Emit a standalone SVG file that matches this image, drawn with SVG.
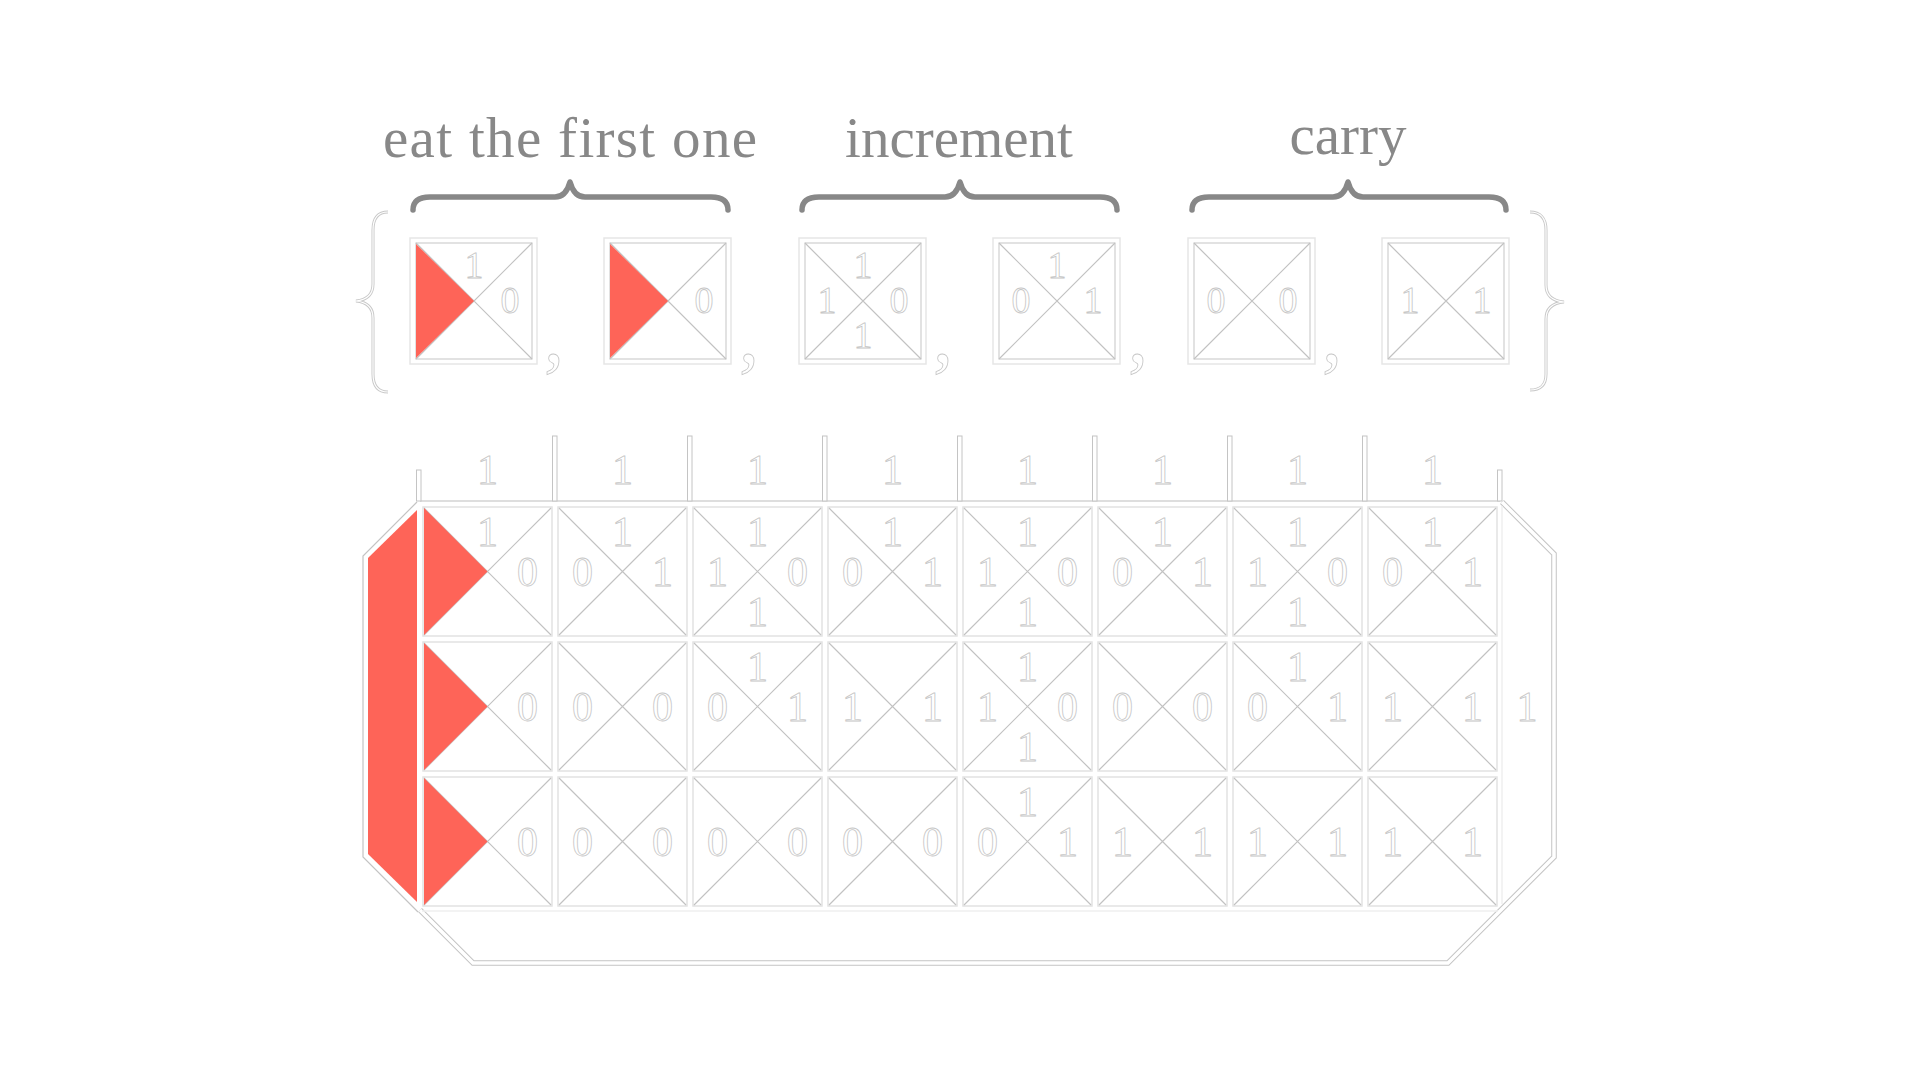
<svg xmlns="http://www.w3.org/2000/svg" xmlns:xlink="http://www.w3.org/1999/xlink" width="1920" height="1080" viewBox="0 0 1920 1080">
<style>
.lbl{font-family:"Liberation Serif","DejaVu Serif",serif;font-size:57px;fill:#888;text-anchor:middle}
.ob{fill:none;stroke:#888;stroke-width:5.5;stroke-linecap:round;stroke-linejoin:round}
.d{font-family:"Liberation Serif","DejaVu Serif",serif;font-size:42px;fill:#fff;stroke:#c6c6c6;stroke-width:0.8;text-anchor:middle}
.ds{font-family:"Liberation Serif","DejaVu Serif",serif;font-size:38px;fill:#fff;stroke:#c6c6c6;stroke-width:0.8;text-anchor:middle}
.cm{font-family:"Liberation Serif","DejaVu Serif",serif;font-size:80px;fill:#fff;stroke:#c6c6c6;stroke-width:0.8}
.cellbox{fill:#fff;stroke:#e2e2e2;stroke-width:1.5}
.diag{stroke:#c2c2c2;stroke-width:1.2;fill:none}
.outer{fill:none;stroke:#e6e6e6;stroke-width:1.5}
.inner{fill:none;stroke:#cfcfcf;stroke-width:1.2}
.red{fill:#fe6458}
.dA{fill:none;stroke:#c4c4c4;stroke-width:5.5;stroke-linejoin:miter}
.dB{fill:none;stroke:#fff;stroke-width:3.5;stroke-linejoin:miter}
.bA{fill:none;stroke:#c8c8c8;stroke-width:3}
.bB{fill:none;stroke:#fff;stroke-width:1.2}
.sep{fill:#fff;stroke:#c4c4c4;stroke-width:1}
.thin{fill:none;stroke:#c4c4c4;stroke-width:1.2}
.faint{fill:none;stroke:#efefef;stroke-width:1.5}
.hl{fill:none;stroke:#dedede;stroke-width:1.8}
</style>
<defs>
<g id="cell">
<rect class="cellbox" x="0" y="0" width="129" height="129"/>
<path class="diag" d="M1,1 L128,128 M128,1 L1,128"/>
</g>
<g id="rcell">
<rect class="cellbox" x="0" y="0" width="129" height="129"/>
<path class="diag" d="M1,1 L128,128 M128,1 L1,128"/>
<polygon class="red" points="1,1 64.5,64.5 1,128"/>
</g>
<g id="box">
<rect class="outer" x="0" y="0" width="127" height="126"/>
<rect class="inner" x="6" y="5" width="116" height="116"/>
<path class="diag" d="M6,5 L122,121 M122,5 L6,121"/>
</g>
<g id="rbox">
<rect class="outer" x="0" y="0" width="127" height="126"/>
<rect class="inner" x="6" y="5" width="116" height="116"/>
<path class="diag" d="M6,5 L122,121 M122,5 L6,121"/>
<polygon class="red" points="6,6 64,63 6,120"/>
</g>
<path id="lbrace" d="M388,212 C378,212 373,218 373,230 L373,284 C373,295 366,300 356,301 C366,302 373,307 373,318 L373,374 C373,386 378,392 388,392"/>
<path id="rbrace" d="M1530,212 C1540,212 1546,218 1546,230 L1546,285 C1546,296 1553,301 1564,302 C1553,303 1546,308 1546,319 L1546,374 C1546,386 1540,390 1530,390"/>
<path id="hexR" d="M1502,502 L1554,554 L1554,857 L1448,963 L473,963 L420,910"/>
</defs>

<g id="labels">
<text class="lbl" x="570" y="157" textLength="374" lengthAdjust="spacing">eat the first one</text>
<text class="lbl" x="959" y="157">increment</text>
<text class="lbl" x="1348" y="154">carry</text>
</g>

<g id="overbraces">
<path class="ob" d="M413,210 Q413,197 430,197 L555,197 Q566,197 570,182 Q574,197 585,197 L711,197 Q728,197 728,210"/>
<path class="ob" d="M802,210 Q802,197 819,197 L945,197 Q956,197 960,182 Q964,197 975,197 L1100,197 Q1117,197 1117,210"/>
<path class="ob" d="M1192,210 Q1192,197 1209,197 L1333,197 Q1344,197 1348,182 Q1352,197 1363,197 L1489,197 Q1506,197 1506,210"/>
</g>

<g id="set-braces">
<use xlink:href="#lbrace" class="bA"/>
<use xlink:href="#lbrace" class="bB"/>
<use xlink:href="#rbrace" class="bA"/>
<use xlink:href="#rbrace" class="bB"/>
</g>

<g id="box1">
<use xlink:href="#rbox" x="410" y="238"/>
<text class="ds" x="474" y="278">1</text>
<text class="ds" x="510" y="313">0</text>
<text class="cm" x="544" y="362">,</text>
</g>
<g id="box2">
<use xlink:href="#rbox" x="604" y="238"/>
<text class="ds" x="704" y="313">0</text>
<text class="cm" x="739" y="362">,</text>
</g>
<g id="box3">
<use xlink:href="#box" x="799" y="238"/>
<text class="ds" x="863" y="278">1</text>
<text class="ds" x="827" y="313">1</text>
<text class="ds" x="899" y="313">0</text>
<text class="ds" x="863" y="348">1</text>
<text class="cm" x="933" y="362">,</text>
</g>
<g id="box4">
<use xlink:href="#box" x="993" y="238"/>
<text class="ds" x="1057" y="278">1</text>
<text class="ds" x="1021" y="313">0</text>
<text class="ds" x="1093" y="313">1</text>
<text class="cm" x="1128" y="362">,</text>
</g>
<g id="box5">
<use xlink:href="#box" x="1188" y="238"/>
<text class="ds" x="1216" y="313">0</text>
<text class="ds" x="1288" y="313">0</text>
<text class="cm" x="1322" y="362">,</text>
</g>
<g id="box6">
<use xlink:href="#box" x="1382" y="238"/>
<text class="ds" x="1410" y="313">1</text>
<text class="ds" x="1482" y="313">1</text>
</g>

<g id="frame">
<polygon class="red" points="368,558 417,510 417,902 368,854"/>
<path class="thin" d="M417,502 L363,556 L363,857 L418,912"/>
<use xlink:href="#hexR" class="dA"/>
<use xlink:href="#hexR" class="dB"/>
<line class="hl" x1="420" y1="501" x2="1500" y2="501"/>
<line class="faint" x1="422" y1="911" x2="1498" y2="911"/>
<line class="faint" x1="1502" y1="506" x2="1502" y2="904"/>
<rect class="sep" x="416.5" y="470" width="4.5" height="31"/>
<rect class="sep" x="552.5" y="436" width="4.5" height="65"/>
<rect class="sep" x="687.5" y="436" width="4.5" height="65"/>
<rect class="sep" x="822.5" y="436" width="4.5" height="65"/>
<rect class="sep" x="957.5" y="436" width="4.5" height="65"/>
<rect class="sep" x="1092.5" y="436" width="4.5" height="65"/>
<rect class="sep" x="1227.5" y="436" width="4.5" height="65"/>
<rect class="sep" x="1362.5" y="436" width="4.5" height="65"/>
<rect class="sep" x="1497.5" y="470" width="4.5" height="31"/>
</g>

<g id="header">
<text class="d" x="487.5" y="484">1</text>
<text class="d" x="622.5" y="484">1</text>
<text class="d" x="757.5" y="484">1</text>
<text class="d" x="892.5" y="484">1</text>
<text class="d" x="1027.5" y="484">1</text>
<text class="d" x="1162.5" y="484">1</text>
<text class="d" x="1297.5" y="484">1</text>
<text class="d" x="1432.5" y="484">1</text>
</g>

<g id="row0">
<use xlink:href="#rcell" x="423" y="507"/>
<use xlink:href="#cell" x="558" y="507"/>
<use xlink:href="#cell" x="693" y="507"/>
<use xlink:href="#cell" x="828" y="507"/>
<use xlink:href="#cell" x="963" y="507"/>
<use xlink:href="#cell" x="1098" y="507"/>
<use xlink:href="#cell" x="1233" y="507"/>
<use xlink:href="#cell" x="1368" y="507"/>
<text class="d" x="487.5" y="545.5">1</text><text class="d" x="527.5" y="585.5">0</text>
<text class="d" x="622.5" y="545.5">1</text><text class="d" x="582.5" y="585.5">0</text><text class="d" x="662.5" y="585.5">1</text>
<text class="d" x="757.5" y="545.5">1</text><text class="d" x="717.5" y="585.5">1</text><text class="d" x="797.5" y="585.5">0</text><text class="d" x="757.5" y="625.5">1</text>
<text class="d" x="892.5" y="545.5">1</text><text class="d" x="852.5" y="585.5">0</text><text class="d" x="932.5" y="585.5">1</text>
<text class="d" x="1027.5" y="545.5">1</text><text class="d" x="987.5" y="585.5">1</text><text class="d" x="1067.5" y="585.5">0</text><text class="d" x="1027.5" y="625.5">1</text>
<text class="d" x="1162.5" y="545.5">1</text><text class="d" x="1122.5" y="585.5">0</text><text class="d" x="1202.5" y="585.5">1</text>
<text class="d" x="1297.5" y="545.5">1</text><text class="d" x="1257.5" y="585.5">1</text><text class="d" x="1337.5" y="585.5">0</text><text class="d" x="1297.5" y="625.5">1</text>
<text class="d" x="1432.5" y="545.5">1</text><text class="d" x="1392.5" y="585.5">0</text><text class="d" x="1472.5" y="585.5">1</text>
</g>

<g id="row1">
<use xlink:href="#rcell" x="423" y="642"/>
<use xlink:href="#cell" x="558" y="642"/>
<use xlink:href="#cell" x="693" y="642"/>
<use xlink:href="#cell" x="828" y="642"/>
<use xlink:href="#cell" x="963" y="642"/>
<use xlink:href="#cell" x="1098" y="642"/>
<use xlink:href="#cell" x="1233" y="642"/>
<use xlink:href="#cell" x="1368" y="642"/>
<text class="d" x="527.5" y="720.5">0</text>
<text class="d" x="582.5" y="720.5">0</text><text class="d" x="662.5" y="720.5">0</text>
<text class="d" x="757.5" y="680.5">1</text><text class="d" x="717.5" y="720.5">0</text><text class="d" x="797.5" y="720.5">1</text>
<text class="d" x="852.5" y="720.5">1</text><text class="d" x="932.5" y="720.5">1</text>
<text class="d" x="1027.5" y="680.5">1</text><text class="d" x="987.5" y="720.5">1</text><text class="d" x="1067.5" y="720.5">0</text><text class="d" x="1027.5" y="760.5">1</text>
<text class="d" x="1122.5" y="720.5">0</text><text class="d" x="1202.5" y="720.5">0</text>
<text class="d" x="1297.5" y="680.5">1</text><text class="d" x="1257.5" y="720.5">0</text><text class="d" x="1337.5" y="720.5">1</text>
<text class="d" x="1392.5" y="720.5">1</text><text class="d" x="1472.5" y="720.5">1</text>
<text class="d" x="1527" y="720.5">1</text>
</g>

<g id="row2">
<use xlink:href="#rcell" x="423" y="777"/>
<use xlink:href="#cell" x="558" y="777"/>
<use xlink:href="#cell" x="693" y="777"/>
<use xlink:href="#cell" x="828" y="777"/>
<use xlink:href="#cell" x="963" y="777"/>
<use xlink:href="#cell" x="1098" y="777"/>
<use xlink:href="#cell" x="1233" y="777"/>
<use xlink:href="#cell" x="1368" y="777"/>
<text class="d" x="527.5" y="855.5">0</text>
<text class="d" x="582.5" y="855.5">0</text><text class="d" x="662.5" y="855.5">0</text>
<text class="d" x="717.5" y="855.5">0</text><text class="d" x="797.5" y="855.5">0</text>
<text class="d" x="852.5" y="855.5">0</text><text class="d" x="932.5" y="855.5">0</text>
<text class="d" x="1027.5" y="815.5">1</text><text class="d" x="987.5" y="855.5">0</text><text class="d" x="1067.5" y="855.5">1</text>
<text class="d" x="1122.5" y="855.5">1</text><text class="d" x="1202.5" y="855.5">1</text>
<text class="d" x="1257.5" y="855.5">1</text><text class="d" x="1337.5" y="855.5">1</text>
<text class="d" x="1392.5" y="855.5">1</text><text class="d" x="1472.5" y="855.5">1</text>
</g>
</svg>
